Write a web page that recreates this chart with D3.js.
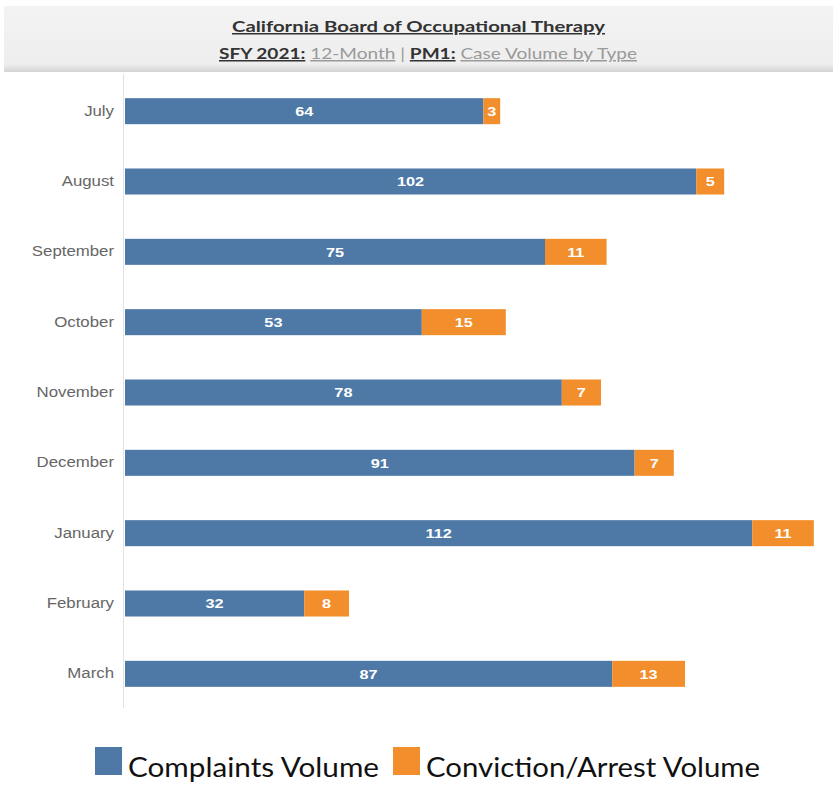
<!DOCTYPE html>
<html>
<head>
<meta charset="utf-8">
<script src="https://cdn.jsdelivr.net/npm/d3@7"></script>
<style>
  html, body { margin: 0; padding: 0; background: #fff; }
  svg { display: block; }
</style>
</head>
<body>
<svg id="chart" width="833" height="787"></svg>
<script>
// Monthly case volumes, SFY 2021
const months = ["July", "August", "September", "October", "November", "December", "January", "February", "March"];
const complaints = [64, 102, 75, 53, 78, 91, 112, 32, 87];
const convictions = [3, 5, 11, 15, 7, 7, 11, 8, 13];
const seriesNames = ["Complaints Volume", "Conviction/Arrest Volume"];
const seriesColors = ["#4e79a7", "#f28e2b"];

const svg = d3.select("#chart");
const W = 833;

// Widen text horizontally by a factor (or to a fixed width)
function widen(sel, factor) {
  sel.each(function () {
    const n = this.getComputedTextLength();
    d3.select(this).attr("textLength", n * factor).attr("lengthAdjust", "spacingAndGlyphs");
  });
}
function fitWidth(sel, w) {
  sel.attr("textLength", w).attr("lengthAdjust", "spacingAndGlyphs");
}

// Header band
const headGrad = svg.append("defs").append("linearGradient")
  .attr("id", "headShade").attr("x1", 0).attr("x2", 0).attr("y1", 0).attr("y2", 1);
headGrad.append("stop").attr("offset", "0%").attr("stop-color", "#f3f3f3");
headGrad.append("stop").attr("offset", "88%").attr("stop-color", "#eeeeee");
headGrad.append("stop").attr("offset", "100%").attr("stop-color", "#d4d4d4");
svg.append("rect").attr("x", 4).attr("y", 6).attr("width", W - 4).attr("height", 66)
  .attr("fill", "url(#headShade)");

const title = svg.append("text")
  .attr("x", 418.5).attr("y", 32)
  .attr("text-anchor", "middle")
  .attr("font-family", "Lato, 'Open Sans', sans-serif")
  .attr("font-weight", "bold").attr("font-size", 15)
  .attr("fill", "#333")
  .attr("text-decoration", "underline")
  .text("California Board of Occupational Therapy");
fitWidth(title, 373);

const sub = svg.append("text")
  .attr("x", 428).attr("y", 59)
  .attr("text-anchor", "middle")
  .attr("font-family", "Lato, 'Open Sans', sans-serif")
  .attr("font-size", 15);
[["SFY 2021:", true, true], [" ", false, false], ["12-Month", false, true], [" | ", false, false],
 ["PM1:", true, true], [" ", false, false], ["Case Volume by Type", false, true]]
  .forEach(([t, bold, ul]) => {
    sub.append("tspan")
      .attr("font-weight", bold ? "bold" : "normal")
      .attr("fill", bold ? "#333" : "#9a9a9a")
      .attr("text-decoration", ul ? "underline" : "none")
      .text(t);
  });
fitWidth(sub, 418);

// Plot area
const x0 = 125;
const x = d3.scaleLinear().domain([0, 123]).range([x0, x0 + 123 * 5.6]);
const y = d3.scaleBand().domain(months).range([76, 709]).paddingInner(0.63).paddingOuter(0.315);

// Axis line and month labels
svg.append("line").attr("x1", 123.5).attr("x2", 123.5).attr("y1", 74).attr("y2", 708)
  .attr("stroke", "#e2e2e2").attr("stroke-width", 1);

const yAxis = svg.append("g").attr("transform", "translate(114,0)")
  .call(d3.axisLeft(y).tickSize(0).tickPadding(0));
yAxis.select(".domain").remove();
yAxis.selectAll("text")
  .attr("font-family", "'Liberation Sans', Arial, sans-serif")
  .attr("font-size", 14).attr("fill", "#666");
widen(yAxis.selectAll("text"), 1.2);

const rows = months.map((m, i) => ({ month: m, vals: [complaints[i], convictions[i]] }));
const stack = rows.flatMap(r => {
  let acc = 0;
  return r.vals.map((v, k) => { const s = acc; acc += v; return { month: r.month, k, v, s, e: acc }; });
});

svg.append("g").selectAll("rect").data(stack).join("rect")
  .attr("x", d => x(d.s))
  .attr("y", d => y(d.month))
  .attr("width", d => x(d.e) - x(d.s))
  .attr("height", y.bandwidth())
  .attr("fill", d => seriesColors[d.k]);

const valueLabels = svg.append("g").selectAll("text").data(stack).join("text")
  .attr("x", d => (x(d.s) + x(d.e)) / 2)
  .attr("y", d => y(d.month) + y.bandwidth() / 2)
  .attr("dy", "0.36em")
  .attr("text-anchor", "middle")
  .attr("font-family", "'Liberation Sans', Arial, sans-serif")
  .attr("font-weight", "bold").attr("font-size", 13)
  .attr("fill", "#fff")
  .text(d => d.v);
widen(valueLabels, 1.25);

// Legend
const legend = svg.append("g").attr("font-family", "Lato, 'Open Sans', sans-serif");
const legendItems = [{ x: 95, tx: 128, w: 251 }, { x: 393, tx: 426, w: 334 }];
seriesNames.forEach((name, i) => {
  legend.append("rect").attr("x", legendItems[i].x).attr("y", 747)
    .attr("width", 27).attr("height", 28).attr("fill", seriesColors[i]);
  const t = legend.append("text").attr("x", legendItems[i].tx).attr("y", 777)
    .attr("font-size", 27).attr("fill", "#111").text(name);
  fitWidth(t, legendItems[i].w);
});
</script>
</body>
</html>
